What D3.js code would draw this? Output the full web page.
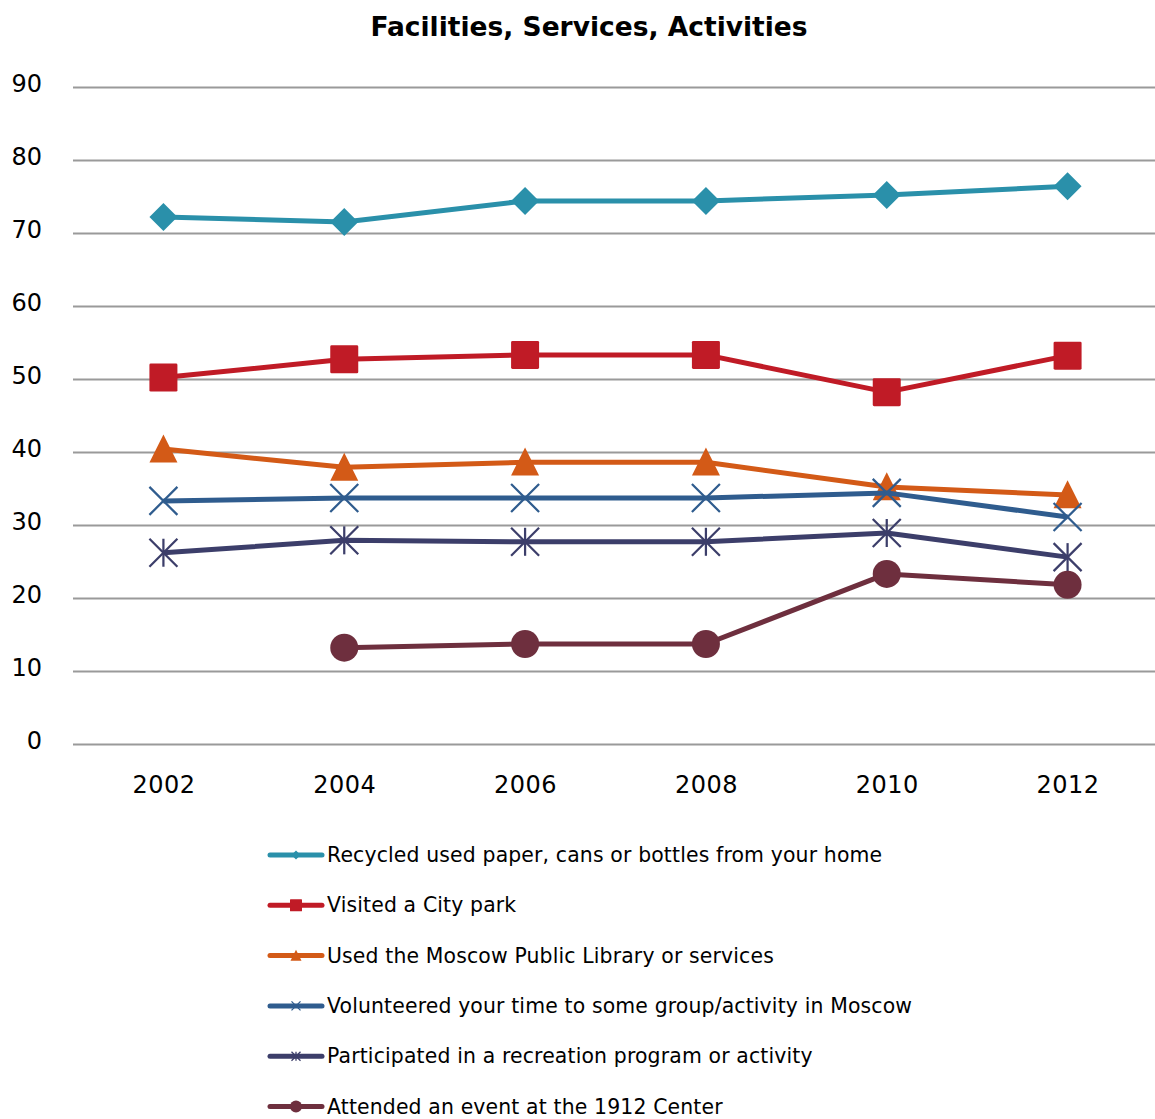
<!DOCTYPE html>
<html>
<head>
<meta charset="utf-8">
<script src="https://cdn.jsdelivr.net/npm/d3@7"></script>
<style>
  html, body { margin: 0; padding: 0; background: #fff; }
  svg { display: block; }
  text { font-family: "DejaVu Sans", Verdana, sans-serif; fill: #000; }
</style>
</head>
<body>
<svg id="chart" width="1155" height="1119"></svg>
<script>
// Survey years and the share of respondents (%) for each activity
const years = ["2002", "2004", "2006", "2008", "2010", "2012"];
const yTicks = [0, 10, 20, 30, 40, 50, 60, 70, 80, 90];

const recycled     = [72.2, 71.5, 74.4, 74.4, 75.2, 76.4];
const cityPark     = [50.2, 52.7, 53.3, 53.3, 48.2, 53.2];
const library      = [40.4, 37.9, 38.6, 38.6, 35.2, 34.1];
const volunteered  = [33.3, 33.7, 33.7, 33.7, 34.4, 31.1];
const recreation   = [26.2, 27.9, 27.7, 27.7, 28.9, 25.6];
const center1912   = [null, 13.2, 13.7, 13.7, 23.3, 21.8];

const seriesNames = [
  "Recycled used paper, cans or bottles from your home",
  "Visited a City park",
  "Used the Moscow Public Library or services",
  "Volunteered your time to some group/activity in Moscow",
  "Participated in a recreation program or activity",
  "Attended an event at the 1912 Center"
];
const seriesColors = ["#2a90aa", "#c01b26", "#d35a17", "#2f5c8e", "#3c3e6a", "#6e2f3e"];
const seriesMarkers = ["diamond", "square", "triangle", "x", "star", "circle"];
const seriesValues = [recycled, cityPark, library, volunteered, recreation, center1912];

const series = seriesNames.map((name, i) => ({
  name, color: seriesColors[i], marker: seriesMarkers[i], values: seriesValues[i]
}));

const svg = d3.select("#chart");

const x = d3.scalePoint().domain(years).range([73, 1158]).padding(0.5);
const y = d3.scaleLinear().domain([0, 90]).range([744, 87]);

// Title
svg.append("text")
  .attr("x", 589).attr("y", 36)
  .attr("text-anchor", "middle")
  .style("font-size", "26.5px").style("font-weight", "bold")
  .text("Facilities, Services, Activities");

// Horizontal gridlines and y labels
const yAxis = d3.axisLeft(y).tickValues(yTicks).tickSize(-(1158 - 73)).tickPadding(31);
const gy = svg.append("g").attr("transform", "translate(73,0)").call(yAxis);
gy.select(".domain").remove();
gy.selectAll(".tick line").attr("stroke", "#9a9a9a").attr("stroke-width", 2);
gy.selectAll(".tick text")
  .attr("dy", "0.32em").attr("y", -3)
  .style("font-size", "24px").style("font-family", "'DejaVu Sans', Verdana, sans-serif").attr("fill", "#000");

// Category labels
const xAxis = d3.axisBottom(x).tickSize(0).tickPadding(0);
const gx = svg.append("g").attr("transform", "translate(0,793)").call(xAxis);
gx.select(".domain").remove();
gx.selectAll(".tick text")
  .attr("y", 0).attr("dy", 0)
  .style("font-size", "24px").style("letter-spacing", "0.5px")
  .style("font-family", "'DejaVu Sans', Verdana, sans-serif").attr("fill", "#000");

// Marker drawing
function drawMarker(g, type, color, s) {
  const h = s / 2;
  if (type === "diamond") {
    g.append("path").attr("d", `M0,${-h}L${h},0L0,${h}L${-h},0Z`).attr("fill", color);
  } else if (type === "square") {
    g.append("rect").attr("x", -h).attr("y", -h).attr("width", s).attr("height", s)
      .attr("rx", s * 0.05).attr("fill", color);
  } else if (type === "triangle") {
    g.append("path").attr("d", `M0,${-h * 1.05}L${h},${h * 0.95}L${-h},${h * 0.95}Z`).attr("fill", color);
  } else if (type === "circle") {
    g.append("circle").attr("r", h).attr("fill", color);
  } else if (type === "x" || type === "star") {
    const sw = Math.max(1.3, s * 0.08);
    g.append("path").attr("d", `M${-h},${-h}L${h},${h}M${h},${-h}L${-h},${h}`)
      .attr("stroke", color).attr("stroke-width", sw).attr("fill", "none");
    if (type === "star") {
      g.append("path").attr("d", `M0,${-h}L0,${h}`)
        .attr("stroke", color).attr("stroke-width", sw).attr("fill", "none");
    }
  }
}

const line = d3.line()
  .defined(d => d.v != null)
  .x(d => x(d.year))
  .y(d => y(d.v));

series.forEach(s => {
  const pts = years.map((yr, i) => ({ year: yr, v: s.values[i] }));
  const g = svg.append("g");
  g.append("path").datum(pts)
    .attr("d", line)
    .attr("fill", "none")
    .attr("stroke", s.color)
    .attr("stroke-width", 5)
    .attr("stroke-linejoin", "round");
  pts.filter(p => p.v != null).forEach(p => {
    const m = g.append("g").attr("transform", `translate(${x(p.year)},${y(p.v)})`);
    drawMarker(m, s.marker, s.color, 28);
  });
});

// Legend
const legendY0 = 855, legendStep = 50.3;
series.forEach((s, i) => {
  const ly = legendY0 + i * legendStep;
  const g = svg.append("g").attr("transform", `translate(0,${ly})`);
  g.append("line").attr("x1", 270).attr("x2", 322).attr("y1", 0).attr("y2", 0)
    .attr("stroke", s.color).attr("stroke-width", 5).attr("stroke-linecap", "round");
  const m = g.append("g").attr("transform", "translate(296,0)");
  const ms = { diamond: 9, square: 12, triangle: 11, x: 9, star: 9, circle: 12 }[s.marker];
  drawMarker(m, s.marker, s.color, ms);
  g.append("text").attr("x", 327).attr("y", 0).attr("dy", "0.35em")
    .style("font-size", "20.4px").style("letter-spacing", "0.15px").text(s.name);
});
</script>
</body>
</html>
